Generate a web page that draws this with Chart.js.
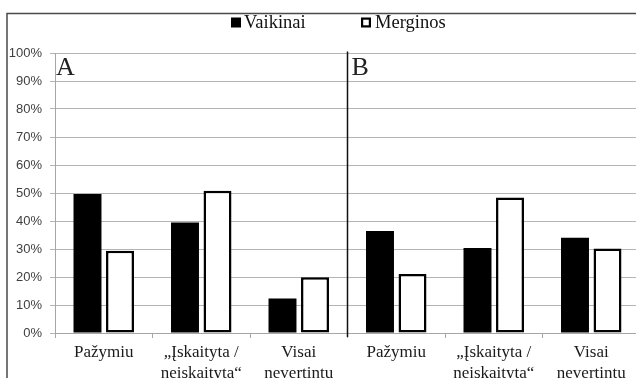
<!DOCTYPE html>
<html>
<head>
<meta charset="utf-8">
<script src="https://cdn.jsdelivr.net/npm/chart.js@4.4.1/dist/chart.umd.min.js"></script>
<style>
  html, body { margin: 0; padding: 0; background: #fff; overflow: hidden; }
  #wrap { width: 641px; height: 378px; }
</style>
</head>
<body>
<div id="wrap"><canvas id="myChart" width="641" height="378"></canvas></div>
<script>
// categories (two groups A and B, three categories each)
const categories = [
    ['Pažymiu'], ['„Įskaityta /', 'neįskaityta“'], ['Visai', 'nevertintų'],
    ['Pažymiu'], ['„Įskaityta /', 'neįskaityta“'], ['Visai', 'nevertintų']
];
const groupLabels = ['A', 'B'];
const vaikinai = [49.6, 39.5, 12.3, 36.4, 30.4, 34.0];
const merginos = [29.4, 50.8, 19.9, 21.1, 48.4, 30.2];
const yMin = 0;
const yMax = 100;
const yStep = 10;

const serif = "'Liberation Serif', 'Times New Roman', serif";

// frame, group divider, A/B letters and legend
const extras = {
    id: 'extras',
    beforeDraw(chart) {
        const c = chart.ctx;
        c.save();
        c.fillStyle = '#fff';
        c.fillRect(0, 0, chart.width, chart.height);
        c.restore();
    },
    afterDraw(chart) {
        const c = chart.ctx;
        const x = chart.scales.x;
        const area = chart.chartArea;
        c.save();

        // outer frame
        c.strokeStyle = '#4a4a4a';
        c.lineWidth = 1.5;
        c.strokeRect(7, 13.5, 800, 600);

        // divider between A and B
        const mid = (x.getPixelForValue(2) + x.getPixelForValue(3)) / 2;
        c.strokeStyle = '#111';
        c.lineWidth = 1.5;
        c.beginPath();
        c.moveTo(mid, area.top - 1.5);
        c.lineTo(mid, area.bottom + 4);
        c.stroke();

        // group letters
        c.fillStyle = '#222';
        c.font = '26px ' + serif;
        c.textBaseline = 'alphabetic';
        c.textAlign = 'left';
        c.fillText(groupLabels[0], area.left + 1, area.top + 21.5);
        c.fillText(groupLabels[1], mid + 4, area.top + 21.5);

        // legend
        const items = [
            { box: 231, text: 244 },
            { box: 361, text: 375 }
        ];
        chart.data.datasets.forEach((ds, i) => {
            const it = items[i];
            if (ds.backgroundColor === '#000') {
                c.fillStyle = '#000';
                c.fillRect(it.box, 17.5, 10, 10);
            } else {
                c.fillStyle = '#fff';
                c.fillRect(it.box, 17.5, 10, 10);
                c.strokeStyle = '#000';
                c.lineWidth = 2.2;
                c.strokeRect(it.box + 1.1, 18.6, 7.8, 7.8);
            }
            c.fillStyle = '#111';
            c.font = '18.5px ' + serif;
            c.fillText(ds.label, it.text, 28);
        });
        c.restore();
    }
};

const ctx = document.getElementById('myChart');

const myChart = new Chart(ctx, {
    type: 'bar',
    data: {
        labels: categories,
        datasets: [{
            label: 'Vaikinai',
            data: vaikinai,
            backgroundColor: '#000',
            borderWidth: 0,
            categoryPercentage: 0.667,
            barPercentage: 0.86
        }, {
            label: 'Merginos',
            data: merginos,
            backgroundColor: '#fff',
            borderColor: '#000',
            borderWidth: 2.5,
            borderSkipped: false,
            categoryPercentage: 0.667,
            barPercentage: 0.86
        }]
    },
    options: {
        responsive: false,
        animation: false,
        layout: {
            padding: { top: 53, right: 1, left: 0, bottom: 0 }
        },
        plugins: {
            legend: { display: false },
            tooltip: { enabled: false }
        },
        scales: {
            x: {
                grid: {
                    offset: true,
                    drawOnChartArea: false,
                    drawTicks: true,
                    tickLength: 5,
                    color: '#a6a6a6'
                },
                border: { color: '#a6a6a6' },
                ticks: {
                    autoSkip: false,
                    maxRotation: 0,
                    padding: 5,
                    color: '#1a1a1a',
                    font: { family: serif, size: 17, lineHeight: 1.18 }
                },
                afterFit(scale) {
                    scale.height = 45;
                }
            },
            y: {
                min: yMin,
                max: yMax,
                ticks: {
                    stepSize: yStep,
                    padding: 8,
                    color: '#404040',
                    font: { family: "'Liberation Sans', Arial, sans-serif", size: 13 },
                    callback: function (v) { return v + '%'; }
                },
                grid: { color: '#b4b4b4', tickLength: 5 },
                border: { color: '#a6a6a6' },
                afterFit(scale) {
                    scale.width = 55;
                }
            }
        }
    },
    plugins: [extras]
});
</script>
</body>
</html>
